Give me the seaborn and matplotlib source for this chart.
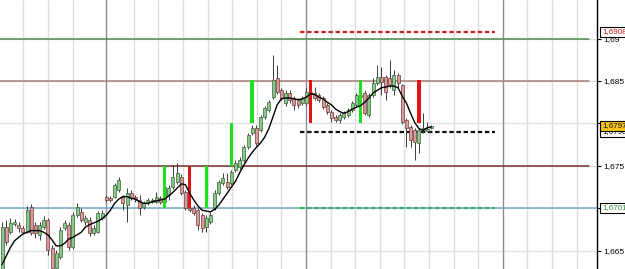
import numpy as np
import pandas as pd
import matplotlib
matplotlib.use("Agg")
import matplotlib.pyplot as plt
import matplotlib.transforms as mtransforms
from matplotlib.ticker import FixedLocator, FuncFormatter
import seaborn as sns

# ---------------- data ----------------
opens = [1.6622, 1.6678, 1.6672, 1.6682, 1.6681, 1.6677, 1.6672, 1.6702, 1.6681, 1.6669,
         1.6678, 1.6686, 1.6654, 1.6630, 1.6643, 1.6677, 1.6681, 1.6655, 1.6692, 1.6696,
         1.6684, 1.6686, 1.6671, 1.6672, 1.6689, 1.6714, 1.6712, 1.6714, 1.6722, 1.6714,
         1.6704, 1.6718, 1.6714, 1.6710, 1.6702, 1.6706, 1.6708, 1.6708, 1.6712, 1.6708,
         1.6716, 1.6725, 1.6731, 1.6737, 1.6719, 1.6701, 1.6701, 1.6698, 1.6692, 1.6678,
         1.6684, 1.6701, 1.6718, 1.6730, 1.6731, 1.6730, 1.6745, 1.6749, 1.6757, 1.6772,
         1.6789, 1.6795, 1.6792, 1.6808, 1.6816, 1.6831, 1.6854, 1.6839, 1.6824, 1.6836,
         1.6830, 1.6828, 1.6824, 1.6824, 1.6837, 1.6836, 1.6834, 1.6830, 1.6822, 1.6814,
         1.6808, 1.6804, 1.6808, 1.6810, 1.6816, 1.6822, 1.6831, 1.6836, 1.6810, 1.6834,
         1.6848, 1.6855, 1.6855, 1.6854, 1.6839, 1.6857, 1.6845, 1.6804, 1.6796, 1.6792,
         1.6777, 1.6792, 1.6791, 1.6795]
highs = [1.6684, 1.6686, 1.6689, 1.6688, 1.6684, 1.6679, 1.6703, 1.6705, 1.6684, 1.6684,
         1.6691, 1.6689, 1.6657, 1.6651, 1.6678, 1.6686, 1.6684, 1.6696, 1.6706, 1.6701,
         1.6692, 1.6690, 1.6681, 1.6697, 1.6698, 1.6716, 1.6715, 1.6730, 1.6737, 1.6716,
         1.6724, 1.6722, 1.6716, 1.6716, 1.6709, 1.6712, 1.6712, 1.6719, 1.6715, 1.6728,
         1.6728, 1.6751, 1.6754, 1.6741, 1.6722, 1.6704, 1.6704, 1.6701, 1.6695, 1.6692,
         1.6696, 1.6722, 1.6734, 1.6742, 1.6742, 1.6745, 1.6757, 1.6761, 1.6775, 1.6789,
         1.6798, 1.6798, 1.6810, 1.6821, 1.6828, 1.6881, 1.6869, 1.6842, 1.6839, 1.6839,
         1.6832, 1.6830, 1.6832, 1.6842, 1.6842, 1.6843, 1.6836, 1.6832, 1.6824, 1.6816,
         1.6810, 1.6812, 1.6815, 1.6818, 1.6826, 1.6836, 1.6837, 1.6839, 1.6836, 1.6854,
         1.6869, 1.6866, 1.6857, 1.6875, 1.6863, 1.6859, 1.6847, 1.6806, 1.6798, 1.6795,
         1.6795, 1.6812, 1.6802, 1.6798]
lows = [1.6616, 1.6657, 1.6670, 1.6679, 1.6672, 1.6670, 1.6671, 1.6669, 1.6665, 1.6663,
        1.6676, 1.6645, 1.6625, 1.6625, 1.6641, 1.6675, 1.6651, 1.6652, 1.6690, 1.6684,
        1.6681, 1.6668, 1.6669, 1.6671, 1.6686, 1.6708, 1.6708, 1.6712, 1.6719, 1.6698,
        1.6684, 1.6710, 1.6708, 1.6692, 1.6699, 1.6704, 1.6706, 1.6706, 1.6705, 1.6706,
        1.6710, 1.6723, 1.6729, 1.6716, 1.6698, 1.6696, 1.6692, 1.6675, 1.6672, 1.6672,
        1.6682, 1.6698, 1.6716, 1.6728, 1.6723, 1.6728, 1.6743, 1.6746, 1.6755, 1.6770,
        1.6786, 1.6775, 1.6790, 1.6805, 1.6814, 1.6829, 1.6835, 1.6828, 1.6821, 1.6824,
        1.6816, 1.6818, 1.6822, 1.6822, 1.6832, 1.6828, 1.6825, 1.6817, 1.6811, 1.6802,
        1.6802, 1.6801, 1.6805, 1.6808, 1.6814, 1.6819, 1.6828, 1.6810, 1.6808, 1.6831,
        1.6845, 1.6834, 1.6828, 1.6842, 1.6834, 1.6842, 1.6799, 1.6772, 1.6772, 1.6757,
        1.6765, 1.6789, 1.6790, 1.6794]
closes = [1.6678, 1.6661, 1.6683, 1.6684, 1.6677, 1.6672, 1.6698, 1.6671, 1.6671, 1.6681,
          1.6686, 1.6651, 1.6630, 1.6648, 1.6675, 1.6683, 1.6655, 1.6692, 1.6702, 1.6686,
          1.6689, 1.6671, 1.6677, 1.6695, 1.6695, 1.6710, 1.6710, 1.6728, 1.6734, 1.6706,
          1.6718, 1.6712, 1.6711, 1.6701, 1.6706, 1.6710, 1.6710, 1.6714, 1.6708, 1.6725,
          1.6724, 1.6737, 1.6742, 1.6718, 1.6701, 1.6698, 1.6695, 1.6681, 1.6677, 1.6689,
          1.6692, 1.6718, 1.6731, 1.6736, 1.6725, 1.6743, 1.6754, 1.6757, 1.6772, 1.6786,
          1.6795, 1.6777, 1.6808, 1.6818, 1.6825, 1.6851, 1.6837, 1.6830, 1.6836, 1.6828,
          1.6822, 1.6822, 1.6830, 1.6837, 1.6835, 1.6830, 1.6828, 1.6819, 1.6814, 1.6806,
          1.6804, 1.6810, 1.6812, 1.6816, 1.6824, 1.6834, 1.6834, 1.6812, 1.6834, 1.6848,
          1.6855, 1.6849, 1.6837, 1.6845, 1.6857, 1.6848, 1.6802, 1.6795, 1.6781, 1.6778,
          1.6792, 1.6795, 1.6794, 1.6797]
ma_line = [1.6634, 1.6644, 1.6654, 1.6662, 1.6666, 1.6670, 1.6672, 1.6674, 1.6674, 1.6674,
           1.6672, 1.6669, 1.6663, 1.6656, 1.6656, 1.6659, 1.6664, 1.6666, 1.6669, 1.6672,
           1.6678, 1.6681, 1.6683, 1.6685, 1.6688, 1.6692, 1.6698, 1.6706, 1.6711, 1.6714,
           1.6714, 1.6712, 1.6711, 1.6708, 1.6706, 1.6706, 1.6708, 1.6709, 1.6710, 1.6711,
           1.6715, 1.6719, 1.6724, 1.6729, 1.6728, 1.6718, 1.6710, 1.6703, 1.6698, 1.6697,
           1.6696, 1.6699, 1.6704, 1.6711, 1.6718, 1.6725, 1.6732, 1.6742, 1.6751, 1.6759,
           1.6766, 1.6772, 1.6777, 1.6784, 1.6794, 1.6808, 1.6822, 1.6829, 1.6830, 1.6830,
           1.6829, 1.6828, 1.6829, 1.6831, 1.6835, 1.6834, 1.6831, 1.6829, 1.6825, 1.6822,
           1.6817, 1.6814, 1.6812, 1.6814, 1.6817, 1.6819, 1.6821, 1.6825, 1.6830, 1.6836,
           1.6839, 1.6842, 1.6843, 1.6844, 1.6844, 1.6842, 1.6832, 1.6824, 1.6812, 1.6801,
           1.6794, 1.6792, 1.6795, 1.6796]

# signal bars: bar index, direction, price range
signal_bars = [39, 45, 49, 55, 60, 74, 86, 100]
signal_dirs = ["buy", "sell", "buy", "buy", "buy", "sell", "buy", "sell"]
signal_low = [1.6701, 1.6701, 1.6701, 1.6750, 1.6801, 1.6801, 1.6801, 1.6801]
signal_high = [1.6750, 1.6750, 1.6750, 1.6801, 1.6851, 1.6851, 1.6851, 1.6851]

# horizontal levels (full width)
level_values = [1.6900, 1.6850, 1.6750, 1.6701]
level_names = ["r2", "r1", "s1", "s2"]

# dashed target levels (partial width)
target_values = [1.6908, 1.6790, 1.6701]
target_names = ["tp", "entry", "sl"]
target_start, target_end = 71.5, 118.2

# right-side price boxes
box_values = [1.6908, 1.6790, 1.6797, 1.6701]
box_names = ["tp", "entry", "last", "sl"]

y_ticks = [1.665, 1.670, 1.675, 1.680, 1.685, 1.690]
hidden_tick_labels = [1.670, 1.680]   # covered by price boxes in the reference

# ---------------- styling ----------------
sns.set_style("white")
plt.rcParams["font.family"] = ["Liberation Sans", "DejaVu Sans"]

W, H = 625, 269
fig = plt.figure(figsize=(W / 100, H / 100), dpi=100)
ax_w = 597 / W
ax = fig.add_axes([0, 0, ax_w, 1])

n = len(closes)
idx = np.arange(n)
df = pd.DataFrame({"bar": idx, "open": opens, "high": highs, "low": lows,
                   "close": closes, "ma": ma_line})

ax.set_xlim(-0.48, 142.7)
ax.set_ylim(1.66288, 1.69453)

# grid
for v in y_ticks:
    ax.axhline(v, color="#e2e2e2", lw=1.0, zorder=0)
step = 5.9
dark = [24.9, 72.9, 72.9 + 8 * step]
light = list(np.arange(5, 20, 6)) + [x for x in np.arange(72.9 - 7 * step, 143, step)
                                     if min(abs(x - d) for d in dark) > 1]
for x in light:
    ax.axvline(x, color="#dedede", lw=1.0, zorder=0)
for x in dark:
    ax.axvline(x, color="#8c8c8c", lw=1.0, zorder=0.5)

# level lines
level_colors = {"r2": "#4e8a4e", "r1": "#a88080", "s1": "#7a2e2e", "s2": "#78acc8"}
level_xmax = {"r2": 589 / 597, "r1": 589 / 597, "s1": 589 / 597, "s2": 1.0}
for v, nme in zip(level_values, level_names):
    ax.axhline(v, xmax=level_xmax[nme], color=level_colors[nme], lw=1.1, zorder=1)

target_colors = {"tp": "#d42020", "entry": "#111111", "sl": "#35b070"}
for v, nme in zip(target_values, target_names):
    ax.hlines(v, target_start, target_end, colors=target_colors[nme], lw=1.6,
              linestyles=(0, (2, 1.2)), zorder=2)

# candles
up = df["close"] >= df["open"]
ax.vlines(df["bar"], df["low"], df["high"], color="#3a3a3a", lw=0.7, zorder=3)
body = (df["close"] - df["open"]).abs().clip(lower=0.00006)
bottom = df[["open", "close"]].min(axis=1)
ax.bar(df["bar"][up], body[up], bottom=bottom[up], width=0.72,
       color="#86cc86", edgecolor="#3f5f3f", linewidth=0.5, zorder=4)
ax.bar(df["bar"][~up], body[~up], bottom=bottom[~up], width=0.72,
       color="#d99a9a", edgecolor="#6a3c3c", linewidth=0.5, zorder=4)

# signal bars
sig = pd.DataFrame({"bar": signal_bars, "dir": signal_dirs,
                    "lo": signal_low, "hi": signal_high})
sig_colors = {"buy": "#1fe01f", "sell": "#e01414"}
for d in ["buy", "sell"]:
    s = sig[sig["dir"] == d]
    ax.bar(s["bar"], s["hi"] - s["lo"], bottom=s["lo"], width=0.85,
           color=sig_colors[d], linewidth=0, zorder=5)

# moving average
sns.lineplot(data=df, x="bar", y="ma", color="black", lw=1.0, ax=ax, zorder=6)

# axes
for sp in ["left", "top", "bottom"]:
    ax.spines[sp].set_visible(False)
ax.spines["right"].set_color("black")
ax.spines["right"].set_linewidth(1.0)
ax.yaxis.tick_right()
ax.yaxis.set_major_locator(FixedLocator(y_ticks))


def fmt(v, p):
    if any(abs(v - h) < 1e-9 for h in hidden_tick_labels):
        return ""
    return f"{v:.3f}".rstrip("0").replace(".", ",")


ax.yaxis.set_major_formatter(FuncFormatter(fmt))
ax.tick_params(axis="y", which="major", direction="out", length=3, width=0.8,
               pad=1.5, labelsize=6, colors="black", right=True, left=False)
ax.set_xticks([])
ax.set_xlabel("")
ax.set_ylabel("")

# price boxes
trans = mtransforms.blended_transform_factory(ax.transAxes, ax.transData)
box_style = {
    "tp": dict(fc="white", tc="#c01818"),
    "entry": dict(fc="white", tc="#111111"),
    "last": dict(fc="#f6c41a", tc="#111111"),
    "sl": dict(fc="white", tc="#3a8a3a"),
}
for z, (v, nme) in enumerate(zip(box_values, box_names)):
    st = box_style[nme]
    ax.text(1.0 + 5 / 597, v, f"{v:.4f}".replace(".", ","), transform=trans,
            ha="left", va="center", fontsize=5.8, color=st["tc"], clip_on=False,
            zorder=20 + z,
            bbox=dict(boxstyle="square,pad=0.2", fc=st["fc"], ec="black", lw=0.8))

fig.savefig("out.png", dpi=100)
